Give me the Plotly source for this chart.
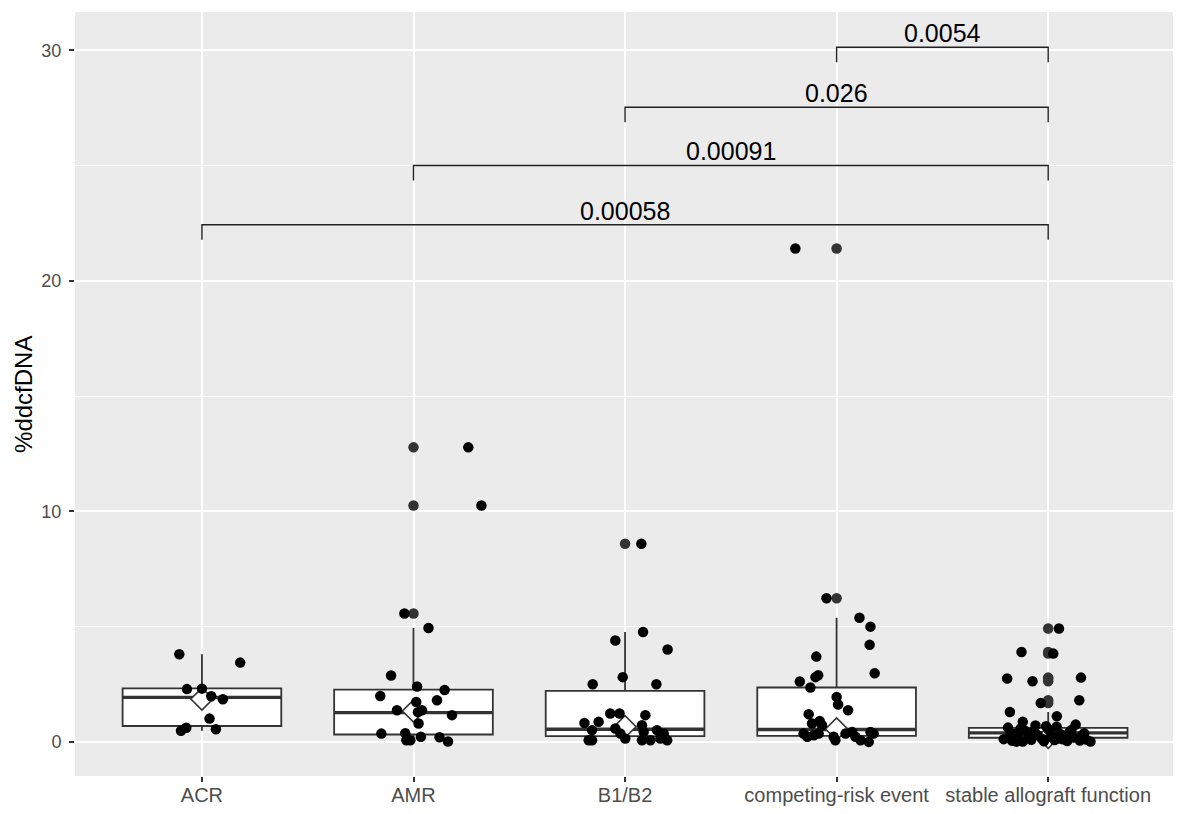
import plotly.graph_objects as go

# ---------------- data ----------------
groups = ["ACR", "AMR", "B1/B2", "competing-risk event", "stable allograft function"]

# box summary statistics
q1 = [0.69, 0.32, 0.25, 0.26, 0.18]
median = [1.93, 1.27, 0.55, 0.54, 0.39]
q3 = [2.32, 2.27, 2.21, 2.36, 0.61]
lower_whisker = [0.48, 0.02, 0.02, 0.00, 0.00]
upper_whisker = [3.80, 4.94, 4.77, 5.39, 1.30]
mean_marker = [1.86, 1.34, 0.66, 0.56, 0.20]

# boxplot outliers (drawn on the category centre)
outliers = [
    [],
    [12.78, 10.26, 5.57],
    [8.60],
    [21.41, 6.23],
    [4.92, 3.90, 3.83, 2.79, 2.75, 2.63, 1.81, 1.69],
]

# jittered observations: values and horizontal jitter (category units)
acr_vals = [3.80, 3.44, 2.29, 2.31, 1.98, 1.85, 1.01, 0.61, 0.48, 0.55]
acr_jit = [-0.107, 0.181, -0.071, 0.0, 0.044, 0.099, 0.036, -0.074, -0.099, 0.066]

amr_vals = [12.78, 10.26, 5.57, 4.94, 2.88, 2.40, 2.25, 1.99, 1.81, 1.73, 1.37,
            1.29, 1.37, 1.16, 0.80, 0.36, 0.38, 0.07, 0.07, 0.22, 0.20, 0.02]
amr_jit = [0.259, 0.321, -0.043, 0.071, -0.106, 0.017, 0.147, -0.157, 0.111, 0.013,
           -0.078, 0.021, 0.040, 0.182, 0.024, -0.152, -0.039, -0.034, -0.015, 0.035,
           0.123, 0.163]

b12_vals = [8.60, 4.40, 4.77, 4.01, 2.50, 2.81, 2.50, 0.82, 0.87, 1.23, 1.23, 1.16,
            0.51, 0.58, 0.36, 0.72, 0.43, 0.51, 0.36, 0.07, 0.07, 0.15, 0.07, 0.07,
            0.15, 0.07]
b12_jit = [0.077, -0.046, 0.085, 0.201, -0.153, -0.011, 0.148, -0.192, -0.125, -0.070,
           -0.026, 0.096, -0.156, -0.046, -0.022, 0.080, 0.088, 0.151, 0.183, -0.172,
           -0.156, 0.001, 0.080, 0.120, 0.167, 0.199]

cre_vals = [21.41, 6.23, 5.39, 5.00, 4.21, 2.98, 3.70, 2.81, 2.89, 2.62, 2.36, 1.95,
            1.62, 1.37, 1.20, 0.80, 0.91, 0.72, 0.36, 0.22, 0.29, 0.36, 0.22, 0.07,
            0.36, 0.43, 0.22, 0.07, 0.00, 0.36, 0.43]
cre_jit = [-0.195, -0.048, 0.108, 0.160, 0.156, 0.180, -0.096, -0.100, -0.087, -0.174,
           -0.124, 0.000, 0.007, 0.054, -0.132, -0.116, -0.080, -0.069, -0.156, -0.139,
           -0.108, -0.085, -0.014, -0.006, 0.042, 0.073, 0.089, 0.113, 0.152, 0.175,
           0.160]

saf_vals = [4.92, 3.90, 3.83, 2.75, 2.63, 2.79, 1.81, 1.69, 1.30, 1.11, 0.87,
            0.12, 0.62, 0.05, 0.35, 0.18, 0.02, 0.48, 0.25, 0.09, 0.71, 0.30, 0.14,
            0.03, 0.55, 0.21, 0.08, 0.66, 0.33, 0.11, 0.04, 0.42, 0.19, 0.75, 0.06,
            0.28, 0.10, 0.02, 0.27, 0.58, 0.44, 0.68, 0.15, 0.52, 0.38, 0.01, 0.24,
            0.13]
saf_jit = [0.051, -0.126, 0.024, -0.194, -0.074, 0.155, 0.147, -0.035, -0.181, 0.041,
           -0.120,
           -0.21, -0.19, -0.17, -0.16, -0.14, -0.12, -0.11, -0.09, -0.08, -0.06, -0.05,
           -0.03, -0.02, 0.00, 0.01, 0.03, 0.04, 0.06, 0.07, 0.09, 0.10, 0.12, 0.13,
           0.15, 0.16, 0.18, 0.20, -0.18, -0.13, -0.07, -0.01, 0.05, 0.11, 0.17, -0.15,
           0.02, 0.08]

point_vals = [acr_vals, amr_vals, b12_vals, cre_vals, saf_vals]
point_jit = [acr_jit, amr_jit, b12_jit, cre_jit, saf_jit]

# pairwise comparisons: (group A, group B, p-value label, bracket height)
comparisons = [
    ("competing-risk event", "stable allograft function", "0.0054", 30.14),
    ("B1/B2", "stable allograft function", "0.026", 27.54),
    ("AMR", "stable allograft function", "0.00091", 25.01),
    ("ACR", "stable allograft function", "0.00058", 22.44),
]

y_ticks = [0, 10, 20, 30]

# ---------------- figure ----------------
FONT = "Liberation Sans, Arial, sans-serif"
BOX_LINE = "#333333"
BOX_W = 0.75
fig = go.Figure()

for i, g in enumerate(groups):
    fig.add_trace(go.Box(
        x=[i], q1=[q1[i]], median=[median[i]], q3=[q3[i]],
        lowerfence=[lower_whisker[i]], upperfence=[upper_whisker[i]],
        width=BOX_W, whiskerwidth=0, boxpoints=False,
        fillcolor="white", line=dict(color=BOX_LINE, width=1.8),
        showlegend=False, hoverinfo="skip",
    ))
    # thicker median line (ggplot fatten)
    fig.add_trace(go.Scatter(
        x=[i - BOX_W / 2, i + BOX_W / 2], y=[median[i], median[i]],
        mode="lines", line=dict(color=BOX_LINE, width=3.4),
        showlegend=False, hoverinfo="skip",
    ))
    # mean diamond
    fig.add_trace(go.Scatter(
        x=[i], y=[mean_marker[i]], mode="markers",
        marker=dict(symbol="diamond", size=17, color="white",
                    line=dict(color=BOX_LINE, width=1.6)),
        showlegend=False, hoverinfo="skip",
    ))
    # boxplot outliers
    if outliers[i]:
        fig.add_trace(go.Scatter(
            x=[i] * len(outliers[i]), y=outliers[i], mode="markers",
            marker=dict(size=10.5, color="#333333"),
            showlegend=False, hoverinfo="skip",
        ))
    # jittered points
    fig.add_trace(go.Scatter(
        x=[i + d for d in point_jit[i]], y=point_vals[i], mode="markers",
        marker=dict(size=10.5, color="black"),
        showlegend=False, hoverinfo="skip",
    ))

# significance brackets
TICK = 0.65
for a, b, lab, h in comparisons:
    xa, xb = groups.index(a), groups.index(b)
    fig.add_trace(go.Scatter(
        x=[xa, xa, xb, xb], y=[h - TICK, h, h, h - TICK], mode="lines",
        line=dict(color="#222222", width=1.4),
        showlegend=False, hoverinfo="skip",
    ))
    fig.add_annotation(
        x=(xa + xb) / 2, y=h, text=lab, showarrow=False,
        xanchor="center", yanchor="middle", yshift=14,
        font=dict(family=FONT, size=25, color="black"),
    )

# y-axis title
fig.add_annotation(
    xref="paper", yref="paper", x=-0.0474, y=0.5, text="%ddcfDNA",
    textangle=-90, showarrow=False, xanchor="center", yanchor="middle",
    font=dict(family=FONT, size=24, color="black"),
)

# the page adds an 8px body margin, so the figure is sized to fit inside it
fig.update_layout(
    width=1165, height=798,
    margin=dict(l=67, r=0, t=4, b=30, autoexpand=False),
    paper_bgcolor="white", plot_bgcolor="#EBEBEB",
    font=dict(family=FONT, color="#4D4D4D"),
    showlegend=False,
)
fig.update_xaxes(
    range=[-0.6, len(groups) - 0.41], automargin=False,
    tickmode="array", tickvals=list(range(len(groups))), ticktext=groups,
    tickfont=dict(size=20, color="#4D4D4D"),
    ticks="outside", ticklen=5, tickwidth=1.5, tickcolor="#333333",
    showgrid=True, gridcolor="white", gridwidth=2.2,
    zeroline=False, showline=False, ticklabelstandoff=-4,
)
fig.update_yaxes(
    range=[-1.48, 31.67], automargin=False,
    tickmode="array", tickvals=y_ticks, ticktext=[str(t) for t in y_ticks],
    tickfont=dict(size=18, color="#4D4D4D"),
    ticks="outside", ticklen=5, tickwidth=1.5, tickcolor="#333333",
    showgrid=True, gridcolor="white", gridwidth=2.2,
    minor=dict(tickmode="array", tickvals=[5, 15, 25], showgrid=True,
               gridcolor="white", gridwidth=1.1, ticks=""),
    zeroline=False, showline=False, ticklabelstandoff=4,
)

fig.write_html("out.html")
